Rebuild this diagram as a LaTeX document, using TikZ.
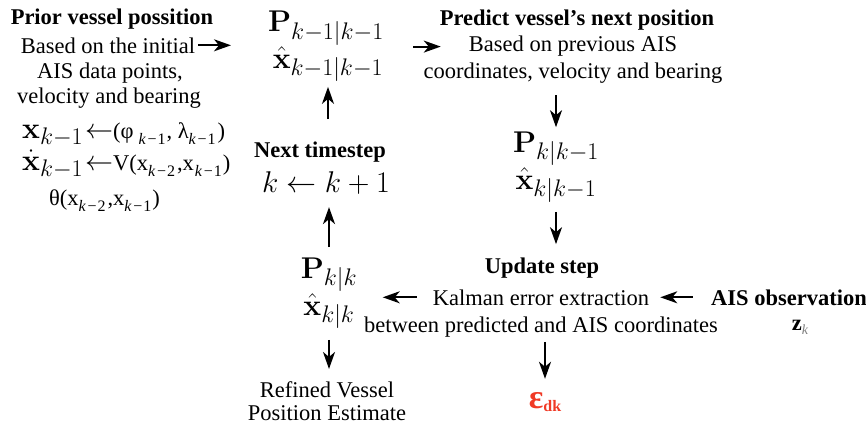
\RequirePackage{fix-cm}
\documentclass[tikz,border=0pt]{standalone}
\usepackage[no-math]{fontspec}
\setmainfont{Liberation Serif}
\usepackage{amsmath}
\usetikzlibrary{arrows.meta,positioning}
\DeclareMathSizes{30}{30}{24}{18}
\definecolor{errRed}{RGB}{240,58,38}
\newcommand{\subtxt}[1]{\raisebox{-6pt}{\fontsize{16}{16}\selectfont\textit{k}\kern1.5pt−\kern1pt#1}}
\newcommand{\bigmath}[1]{{\fontsize{30}{36}\selectfont$#1$}}
\newcommand{\larr}{\kern2pt{\fontsize{28}{30}\selectfont$\leftarrow$}}
\tikzset{
  txtline/.style={anchor=base,inner sep=0pt,font=\fontsize{22.5}{27}\selectfont},
  headline/.style={txtline,font=\bfseries\fontsize{22.5}{27}\selectfont},
  est/.style={anchor=base,inner sep=0pt,font=\fontsize{30}{36}\selectfont},
  flow/.style={-{Stealth[length=17pt,width=12pt,inset=5pt]},line width=2pt},
}

\begin{document}
\begin{tikzpicture}[x=1pt,y=-1pt]
\path[use as bounding box] (0,0) rectangle (866,428);

% prior vessel position
\node[headline] (prior) at (112,25) {Prior vessel possition};
\node[txtline] (based) at (108,53) {Based on the initial};
\node[txtline] (aisdata) at (110,78) {AIS data points,};
\node[txtline] (velbear) at (109,103) {velocity and bearing};
\node[txtline,anchor=base west] (xeq) at (22,138) {\bigmath{\mathbf{x}_{k-1}}\larr(φ\kern5pt\subtxt{1}\kern1pt, λ\subtxt{1}\kern2pt)};
\node[txtline,anchor=base west] (xdot) at (22,170) {\bigmath{\dot{\mathbf{x}}_{k-1}}\larr V(x\subtxt{2}\kern2pt,x\kern1pt\subtxt{1}\kern1pt)};
\node[txtline,anchor=base west] (theta) at (49,205) {θ(x\subtxt{2}\kern2pt,x\subtxt{1}\kern1pt)};

% estimate at k-1
\node[est] (Pprev) at (326,32) {$\mathbf{P}_{k-1|k-1}$};
\node[est] (xprev) at (328,68) {$\hat{\mathbf{x}}_{k-1|k-1}$};

% prediction
\node[headline] (predict) at (577,26) {Predict vessel’s next position};
\node[txtline] (basedprev) at (573,52) {Based on previous AIS};
\node[txtline] (coordprev) at (573,78) {coordinates, velocity and bearing};
\node[est] (Ppred) at (556,152) {$\mathbf{P}_{k|k-1}$};
\node[est] (xpred) at (556,189) {$\hat{\mathbf{x}}_{k|k-1}$};

% update
\node[headline] (update) at (542,273) {Update step};
\node[txtline] (kalman) at (541,305) {Kalman error extraction};
\node[txtline] (between) at (541,332) {between predicted and AIS coordinates};
\node[headline] (ais) at (789,305) {AIS observation};
\node[txtline] (zk) at (800,330) {\textbf{z}\raisebox{-4pt}{\fontsize{14}{14}\selectfont\color{gray}\itshape k}};
\node[txtline,text=errRed] (eps) at (545,408) {\bfseries\fontsize{34}{36}\selectfont ε\raisebox{-3pt}{\fontsize{16}{16}\selectfont dk}};

% next timestep
\node[headline] (nexthead) at (320,157) {Next timestep};
\node[est] (nextk) at (326,192) {$k\leftarrow k+1$};
\node[est] (Pupd) at (329,278) {$\mathbf{P}_{k|k}$};
\node[est] (xupd) at (329,315) {$\hat{\mathbf{x}}_{k|k}$};
\node[txtline] (refined) at (327,397) {Refined Vessel};
\node[txtline] (refpos) at (327,420) {Position Estimate};

% arrows
\draw[flow,shorten <=3pt,shorten >=37pt] (based.east) -- (based.east -| Pprev.west);
\draw[flow,shorten <=29pt,shorten >=28pt] (basedprev.west -| Pprev.east) -- (basedprev.west);
\draw[flow,shorten <=22pt,shorten >=5pt] (xprev.south |- nexthead.north) -- (xprev.south);
\draw[flow,shorten <=10pt,shorten >=13pt] (Pupd.north) -- (Pupd.north |- nextk.south);
\draw[flow,shorten <=11pt,shorten >=12pt] (xupd.south) -- (xupd.south |- refined.north);
\draw[flow,shorten <=12pt,shorten >=4pt] (Ppred.north |- coordprev.south) -- (Ppred.north);
\draw[flow,shorten <=9pt,shorten >=13pt] (xpred.south) -- (xpred.south |- update.north);
\draw[flow,shorten <=18pt,shorten >=11pt] (ais.west) -- (kalman.east);
\draw[flow,shorten <=16pt,shorten >=28pt] (kalman.west) -- (kalman.west -| xupd.east);
\draw[flow,shorten <=5pt,shorten >=13pt] (eps.north |- between.south) -- (eps.north);
\end{tikzpicture}
\end{document}
